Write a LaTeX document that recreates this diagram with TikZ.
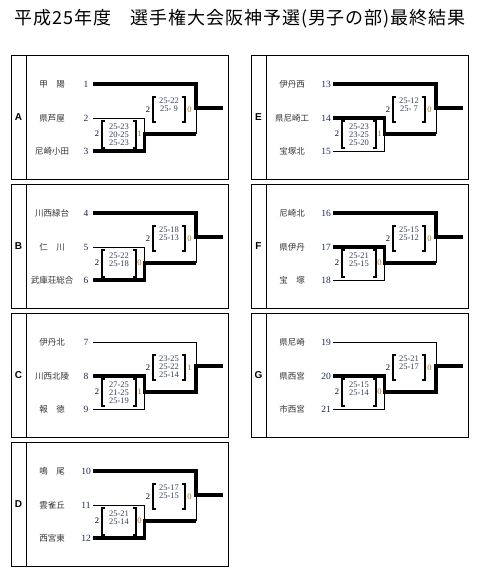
\documentclass[tikz,border=0pt]{standalone}
\usepackage{fontspec}
\setmainfont{Liberation Serif}
\newfontfamily\jpfont{Noto Sans CJK JP}
\newfontfamily\jptitle[LetterSpace=5]{Noto Sans CJK JP}
\newfontfamily\lsans{Liberation Sans}
\definecolor{namec}{HTML}{333333}
\definecolor{numc}{HTML}{1F2A5A}
\definecolor{scorec}{HTML}{3A3F5C}
\definecolor{setrc}{HTML}{A0701A}
\tikzset{
  frame/.style={draw=black, line width=0.8pt},
  letter/.style={font=\lsans\bfseries\fontsize{10}{10}\selectfont, inner sep=0pt},
  tname/.style={font=\jpfont\fontsize{8.5}{8.5}\selectfont, text=namec, inner sep=0pt},
  tnum/.style={font=\fontsize{9.5}{9.5}\selectfont, text=numc, inner sep=0pt},
  win/.style={line width=3.3pt, line join=miter},
  lose/.style={line width=0.8pt},
  brk/.style={line width=1.3pt},
  score/.style={font=\fontsize{8.5}{8.5}\selectfont, text=scorec, inner sep=0pt},
  setl/.style={font=\fontsize{8.5}{8.5}\selectfont, inner sep=0pt},
  setr/.style={setl, text=setrc},
  titlef/.style={font=\jptitle\fontsize{18}{18}\selectfont, inner sep=0pt},
}
% frame, team names and the fixed junction points of one block
\newcommand\bframe[7]{%
  \draw[frame] (0,0) rectangle (217,124);
  \draw[frame] (15,0) -- (15,124);
  \node[letter] (lab) at (7.5,62) {#1};
  \node[tname] (t1) at (41,29) {#2};
  \node[tnum]  (n1) at (75,29) {#3};
  \node[tname] (t2) at (41,63) {#4};
  \node[tnum]  (n2) at (75,63) {#5};
  \node[tname] (t3) at (41,96) {#6};
  \node[tnum]  (n3) at (75,96) {#7};
  \coordinate (s1) at (82,29);
  \coordinate (s2) at (82,63);
  \coordinate (s3) at (82,96);
  \coordinate (j1) at (133.5,79);
  \coordinate (r1) at (185,79);
  \coordinate (j2) at (185,53);
  \coordinate (out) at (212,53);
}
\newcommand\bfirst[3]{%
  \draw[brk] (94,66) -- (91,66) -- (91,93) -- (94,93);
  \draw[brk] (122,66) -- (125,66) -- (125,93) -- (122,93);
  \foreach \s [count=\i] in {#1} {\node[score] (f\i) at (108,63.5+8*\i) {\s};}
  \node[setl] (fl) at (86,79) {#2};
  \node[setr] (fr) at (128.5,79) {#3};
}
\newcommand\bsecond[3]{%
  \draw[brk] (145,42) -- (142,42) -- (142,67) -- (145,67);
  \draw[brk] (171,42) -- (174,42) -- (174,67) -- (171,67);
  \foreach \s [count=\i] in {#1} {\node[score] (g\i) at (158,37.5+8*\i) {\s};}
  \node[setl] (sl) at (137,54.5) {#2};
  \node[setr] (sr) at (178.5,54.5) {#3};
}
% winner patterns
\newcommand\patA{% team 3 wins first round, team 1 wins final
  \draw[lose] (s2) -| (j1);
  \draw[win] (s3) -| (j1) -- (r1);
  \draw[lose] (r1) -- (j2);
  \draw[win] (s1) -| (j2) -- (out);
}
\newcommand\patE{% team 2 wins first round, team 1 wins final
  \draw[lose] (s3) -| (j1);
  \draw[win] (s2) -| (j1) -- (r1);
  \draw[lose] (r1) -- (j2);
  \draw[win] (s1) -| (j2) -- (out);
}
\newcommand\patC{% team 2 wins both
  \draw[lose] (s3) -| (j1);
  \draw[lose] (s1) -| (j2);
  \draw[win] (s2) -| (j1) -- (r1) -- (j2) -- (out);
}
\begin{document}
\begin{tikzpicture}[x=1pt,y=-1pt]
\useasboundingbox (0,0) rectangle (491,581);
\node[titlef] (title) at (240,19) {平成25年度　選手権大会阪神予選(男子の部)最終結果};

\begin{scope}[shift={(11,55)}, name prefix=A-]
  \bframe{A}{甲　陽}{1}{県芦屋}{2}{尼崎小田}{3}
  \patA
  \bfirst{25-23,20-25,25-23}{2}{1}
  \bsecond{25-22,25- 9}{2}{0}
\end{scope}

\begin{scope}[shift={(11,184)}, name prefix=B-]
  \bframe{B}{川西緑台}{4}{仁　川}{5}{武庫荘総合}{6}
  \patA
  \bfirst{25-22,25-18}{2}{0}
  \bsecond{25-18,25-13}{2}{0}
\end{scope}

\begin{scope}[shift={(11,313)}, name prefix=C-]
  \bframe{C}{伊丹北}{7}{川西北陵}{8}{報　徳}{9}
  \patC
  \bfirst{27-25,21-25,25-19}{2}{1}
  \bsecond{23-25,25-22,25-14}{2}{1}
\end{scope}

\begin{scope}[shift={(11,442)}, name prefix=D-]
  \bframe{D}{鳴　尾}{10}{雲雀丘}{11}{西宮東}{12}
  \patA
  \bfirst{25-21,25-14}{2}{0}
  \bsecond{25-17,25-15}{2}{0}
\end{scope}

\begin{scope}[shift={(251,55)}, name prefix=E-]
  \bframe{E}{伊丹西}{13}{県尼崎工}{14}{宝塚北}{15}
  \patE
  \bfirst{25-23,23-25,25-20}{2}{1}
  \bsecond{25-12,25- 7}{2}{0}
\end{scope}

\begin{scope}[shift={(251,184)}, name prefix=F-]
  \bframe{F}{尼崎北}{16}{県伊丹}{17}{宝　塚}{18}
  \patE
  \bfirst{25-21,25-15}{2}{0}
  \bsecond{25-15,25-12}{2}{0}
\end{scope}

\begin{scope}[shift={(251,313)}, name prefix=G-]
  \bframe{G}{県尼崎}{19}{県西宮}{20}{市西宮}{21}
  \patC
  \bfirst{25-15,25-14}{2}{0}
  \bsecond{25-21,25-17}{2}{0}
\end{scope}
\end{tikzpicture}
\end{document}
